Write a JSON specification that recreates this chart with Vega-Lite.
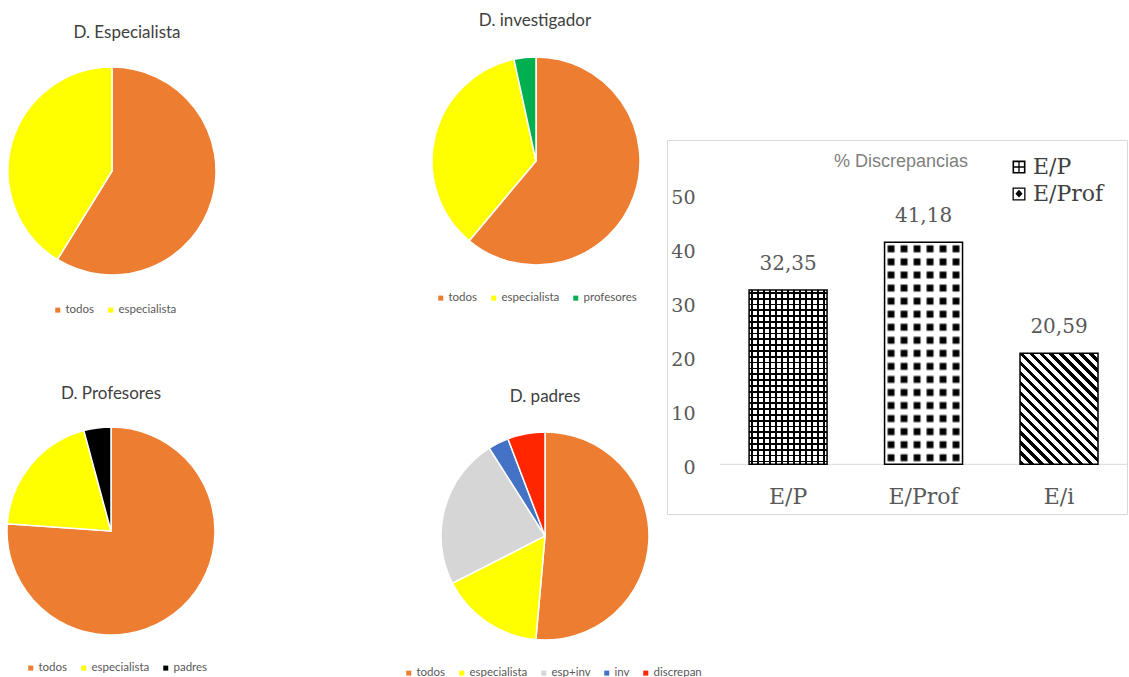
{
  "$schema": "https://vega.github.io/schema/vega-lite/v6.json",
  "background": "white",
  "padding": {"left": 4, "top": 12, "right": 0, "bottom": 0},
  "bounds": "flush",
  "align": "each",
  "columns": 5,
  "spacing": {"row": 0, "column": 0},
  "resolve": {
    "scale": {"color": "independent", "theta": "independent", "shape": "independent"},
    "legend": {"color": "independent", "shape": "independent"}
  },
  "config": {
    "view": {"stroke": null},
    "font": "Lato",
    "title": {"font": "Lato", "fontSize": 17, "fontWeight": "normal", "color": "#404040", "anchor": "middle"},
    "locale": {"number": {"decimal": ",", "thousands": ".", "grouping": [3], "currency": ["", " €"]}}
  },
  "concat": [
    {
      "width": 24,
      "height": 62,
      "title": {"text": "D. Especialista", "offset": 22.5, "dx": 15},
      "data": {"values": [
        {"grupo": "todos", "pct": 58.8, "orden": 1},
        {"grupo": "especialista", "pct": 41.2, "orden": 2}
      ]},
      "mark": {"type": "arc", "outerRadius": 104, "stroke": "#ffffff", "strokeWidth": 1.5},
      "encoding": {
        "theta": {"field": "pct", "type": "quantitative"},
        "order": {"field": "orden", "type": "quantitative"},
        "color": {
          "field": "grupo", "type": "nominal",
          "scale": {"domain": ["todos", "especialista"], "range": ["#ED7D31", "#FFFF00"]},
          "legend": {"orient": "none", "legendX": -48, "legendY": 164, "direction": "horizontal", "title": null, "symbolType": "square", "symbolSize": 25, "symbolStrokeWidth": 0, "labelFont": "Lato", "labelFontSize": 11.5, "labelColor": "#595959", "columnPadding": 10, "labelOffset": 2}
        }
      }
    },
    {
      "width": 400,
      "height": 1,
      "data": {"values": []},
      "mark": "text",
      "encoding": {}
    },
    {
      "width": 24,
      "height": 42,
      "title": {"text": "D. investigador", "offset": 23.75, "dx": -1},
      "data": {"values": [
        {"grupo": "todos", "pct": 61.1, "orden": 1},
        {"grupo": "especialista", "pct": 35.5, "orden": 2},
        {"grupo": "profesores", "pct": 3.4, "orden": 3}
      ]},
      "mark": {"type": "arc", "outerRadius": 104, "stroke": "#ffffff", "strokeWidth": 1.5},
      "encoding": {
        "theta": {"field": "pct", "type": "quantitative"},
        "order": {"field": "orden", "type": "quantitative"},
        "color": {
          "field": "grupo", "type": "nominal",
          "scale": {"domain": ["todos", "especialista", "profesores"], "range": ["#ED7D31", "#FFFF00", "#00B050"]},
          "legend": {"orient": "none", "legendX": -89, "legendY": 152, "direction": "horizontal", "title": null, "symbolType": "square", "symbolSize": 25, "symbolStrokeWidth": 0, "labelFont": "Lato", "labelFontSize": 11.5, "labelColor": "#595959", "columnPadding": 10, "labelOffset": 2}
        }
      }
    },
    {
      "width": 101,
      "height": 1,
      "data": {"values": []},
      "mark": "text",
      "encoding": {}
    },
    {
      "width": 460,
      "height": 374,
      "view": {"stroke": "#d9d9d9", "strokeWidth": 1, "fill": "#ffffff"},
      "title": {"text": "% Discrepancias", "font": "Liberation Sans", "fontSize": 18, "fontWeight": "normal", "color": "#7f7f7f", "offset": -31, "dx": 4},
      "data": {"values": [
        {"cat": "E/P", "val": 32.35},
        {"cat": "E/Prof", "val": 41.18},
        {"cat": "E/i", "val": 20.59}
      ]},
      "encoding": {
        "x": {
          "field": "cat", "type": "nominal", "sort": ["E/P", "E/Prof", "E/i"],
          "scale": {"paddingInner": 0.4244, "paddingOuter": 0.41, "align": 0.739},
          "axis": {"orient": "bottom", "title": null, "domain": false, "ticks": false, "tickSize": 0, "grid": false, "labelAngle": 0, "labelPadding": 22, "offset": -50, "labelFont": "DejaVu Serif", "labelFontSize": 22, "labelColor": "#595959"}
        },
        "y": {
          "field": "val", "type": "quantitative",
          "scale": {"domain": [-9.22, 60.17], "nice": false, "zero": false},
          "axis": {"orient": "left", "title": null, "values": [0, 10, 20, 30, 40, 50], "domain": false, "ticks": false, "tickSize": 0, "grid": false, "labelPadding": 0, "offset": -28, "labelOffset": 3, "labelFont": "DejaVu Serif", "labelFontSize": 19, "labelColor": "#595959"}
        }
      },
      "layer": [
        {
          "transform": [{"filter": "datum.cat === 'E/P'"}],
          "mark": {"type": "rule", "color": "#d9d9d9", "strokeWidth": 1},
          "encoding": {
            "x": {"datum": "E/P", "bandPosition": -0.372},
            "x2": {"value": "width"},
            "y": {"datum": 0}
          }
        },
        {
          "transform": [{"filter": "datum.cat === 'E/P'"}],
          "mark": {"type": "bar", "fill": {"gradient": "linear", "x1": 0, "y1": 0, "x2": 1, "y2": 0, "stops": [
            {"offset": 0, "color": "#fff"},
            {"offset": 0.0269, "color": "#fff"}, {"offset": 0.0269, "color": "#000"}, {"offset": 0.05, "color": "#000"}, {"offset": 0.05, "color": "#fff"},
            {"offset": 0.1038, "color": "#fff"}, {"offset": 0.1038, "color": "#000"}, {"offset": 0.1269, "color": "#000"}, {"offset": 0.1269, "color": "#fff"},
            {"offset": 0.1808, "color": "#fff"}, {"offset": 0.1808, "color": "#000"}, {"offset": 0.2038, "color": "#000"}, {"offset": 0.2038, "color": "#fff"},
            {"offset": 0.2577, "color": "#fff"}, {"offset": 0.2577, "color": "#000"}, {"offset": 0.2808, "color": "#000"}, {"offset": 0.2808, "color": "#fff"},
            {"offset": 0.3346, "color": "#fff"}, {"offset": 0.3346, "color": "#000"}, {"offset": 0.3577, "color": "#000"}, {"offset": 0.3577, "color": "#fff"},
            {"offset": 0.4115, "color": "#fff"}, {"offset": 0.4115, "color": "#000"}, {"offset": 0.4346, "color": "#000"}, {"offset": 0.4346, "color": "#fff"},
            {"offset": 0.4885, "color": "#fff"}, {"offset": 0.4885, "color": "#000"}, {"offset": 0.5115, "color": "#000"}, {"offset": 0.5115, "color": "#fff"},
            {"offset": 0.5654, "color": "#fff"}, {"offset": 0.5654, "color": "#000"}, {"offset": 0.5885, "color": "#000"}, {"offset": 0.5885, "color": "#fff"},
            {"offset": 0.6423, "color": "#fff"}, {"offset": 0.6423, "color": "#000"}, {"offset": 0.6654, "color": "#000"}, {"offset": 0.6654, "color": "#fff"},
            {"offset": 0.7192, "color": "#fff"}, {"offset": 0.7192, "color": "#000"}, {"offset": 0.7423, "color": "#000"}, {"offset": 0.7423, "color": "#fff"},
            {"offset": 0.7962, "color": "#fff"}, {"offset": 0.7962, "color": "#000"}, {"offset": 0.8192, "color": "#000"}, {"offset": 0.8192, "color": "#fff"},
            {"offset": 0.8731, "color": "#fff"}, {"offset": 0.8731, "color": "#000"}, {"offset": 0.8962, "color": "#000"}, {"offset": 0.8962, "color": "#fff"},
            {"offset": 0.95, "color": "#fff"}, {"offset": 0.95, "color": "#000"}, {"offset": 0.9731, "color": "#000"}, {"offset": 0.9731, "color": "#fff"},
            {"offset": 1, "color": "#fff"}
          ]}},
          "encoding": {"y2": {"datum": 0}}
        },
        {
          "transform": [{"filter": "datum.cat === 'E/P'"}],
          "mark": {"type": "bar", "stroke": "#000", "strokeWidth": 1.5, "fill": {"gradient": "linear", "x1": 0, "y1": 0, "x2": 0, "y2": 1, "stops": [
            {"offset": 0, "color": "rgba(0,0,0,0)"},
            {"offset": 0.0117, "color": "rgba(0,0,0,0)"}, {"offset": 0.0117, "color": "#000"}, {"offset": 0.0217, "color": "#000"}, {"offset": 0.0217, "color": "rgba(0,0,0,0)"},
            {"offset": 0.045, "color": "rgba(0,0,0,0)"}, {"offset": 0.045, "color": "#000"}, {"offset": 0.055, "color": "#000"}, {"offset": 0.055, "color": "rgba(0,0,0,0)"},
            {"offset": 0.0783, "color": "rgba(0,0,0,0)"}, {"offset": 0.0783, "color": "#000"}, {"offset": 0.0883, "color": "#000"}, {"offset": 0.0883, "color": "rgba(0,0,0,0)"},
            {"offset": 0.1117, "color": "rgba(0,0,0,0)"}, {"offset": 0.1117, "color": "#000"}, {"offset": 0.1217, "color": "#000"}, {"offset": 0.1217, "color": "rgba(0,0,0,0)"},
            {"offset": 0.145, "color": "rgba(0,0,0,0)"}, {"offset": 0.145, "color": "#000"}, {"offset": 0.155, "color": "#000"}, {"offset": 0.155, "color": "rgba(0,0,0,0)"},
            {"offset": 0.1783, "color": "rgba(0,0,0,0)"}, {"offset": 0.1783, "color": "#000"}, {"offset": 0.1883, "color": "#000"}, {"offset": 0.1883, "color": "rgba(0,0,0,0)"},
            {"offset": 0.2117, "color": "rgba(0,0,0,0)"}, {"offset": 0.2117, "color": "#000"}, {"offset": 0.2217, "color": "#000"}, {"offset": 0.2217, "color": "rgba(0,0,0,0)"},
            {"offset": 0.245, "color": "rgba(0,0,0,0)"}, {"offset": 0.245, "color": "#000"}, {"offset": 0.255, "color": "#000"}, {"offset": 0.255, "color": "rgba(0,0,0,0)"},
            {"offset": 0.2783, "color": "rgba(0,0,0,0)"}, {"offset": 0.2783, "color": "#000"}, {"offset": 0.2883, "color": "#000"}, {"offset": 0.2883, "color": "rgba(0,0,0,0)"},
            {"offset": 0.3117, "color": "rgba(0,0,0,0)"}, {"offset": 0.3117, "color": "#000"}, {"offset": 0.3217, "color": "#000"}, {"offset": 0.3217, "color": "rgba(0,0,0,0)"},
            {"offset": 0.345, "color": "rgba(0,0,0,0)"}, {"offset": 0.345, "color": "#000"}, {"offset": 0.355, "color": "#000"}, {"offset": 0.355, "color": "rgba(0,0,0,0)"},
            {"offset": 0.3783, "color": "rgba(0,0,0,0)"}, {"offset": 0.3783, "color": "#000"}, {"offset": 0.3883, "color": "#000"}, {"offset": 0.3883, "color": "rgba(0,0,0,0)"},
            {"offset": 0.4117, "color": "rgba(0,0,0,0)"}, {"offset": 0.4117, "color": "#000"}, {"offset": 0.4217, "color": "#000"}, {"offset": 0.4217, "color": "rgba(0,0,0,0)"},
            {"offset": 0.445, "color": "rgba(0,0,0,0)"}, {"offset": 0.445, "color": "#000"}, {"offset": 0.455, "color": "#000"}, {"offset": 0.455, "color": "rgba(0,0,0,0)"},
            {"offset": 0.4783, "color": "rgba(0,0,0,0)"}, {"offset": 0.4783, "color": "#000"}, {"offset": 0.4883, "color": "#000"}, {"offset": 0.4883, "color": "rgba(0,0,0,0)"},
            {"offset": 0.5117, "color": "rgba(0,0,0,0)"}, {"offset": 0.5117, "color": "#000"}, {"offset": 0.5217, "color": "#000"}, {"offset": 0.5217, "color": "rgba(0,0,0,0)"},
            {"offset": 0.545, "color": "rgba(0,0,0,0)"}, {"offset": 0.545, "color": "#000"}, {"offset": 0.555, "color": "#000"}, {"offset": 0.555, "color": "rgba(0,0,0,0)"},
            {"offset": 0.5783, "color": "rgba(0,0,0,0)"}, {"offset": 0.5783, "color": "#000"}, {"offset": 0.5883, "color": "#000"}, {"offset": 0.5883, "color": "rgba(0,0,0,0)"},
            {"offset": 0.6117, "color": "rgba(0,0,0,0)"}, {"offset": 0.6117, "color": "#000"}, {"offset": 0.6217, "color": "#000"}, {"offset": 0.6217, "color": "rgba(0,0,0,0)"},
            {"offset": 0.645, "color": "rgba(0,0,0,0)"}, {"offset": 0.645, "color": "#000"}, {"offset": 0.655, "color": "#000"}, {"offset": 0.655, "color": "rgba(0,0,0,0)"},
            {"offset": 0.6783, "color": "rgba(0,0,0,0)"}, {"offset": 0.6783, "color": "#000"}, {"offset": 0.6883, "color": "#000"}, {"offset": 0.6883, "color": "rgba(0,0,0,0)"},
            {"offset": 0.7117, "color": "rgba(0,0,0,0)"}, {"offset": 0.7117, "color": "#000"}, {"offset": 0.7217, "color": "#000"}, {"offset": 0.7217, "color": "rgba(0,0,0,0)"},
            {"offset": 0.745, "color": "rgba(0,0,0,0)"}, {"offset": 0.745, "color": "#000"}, {"offset": 0.755, "color": "#000"}, {"offset": 0.755, "color": "rgba(0,0,0,0)"},
            {"offset": 0.7783, "color": "rgba(0,0,0,0)"}, {"offset": 0.7783, "color": "#000"}, {"offset": 0.7883, "color": "#000"}, {"offset": 0.7883, "color": "rgba(0,0,0,0)"},
            {"offset": 0.8117, "color": "rgba(0,0,0,0)"}, {"offset": 0.8117, "color": "#000"}, {"offset": 0.8217, "color": "#000"}, {"offset": 0.8217, "color": "rgba(0,0,0,0)"},
            {"offset": 0.845, "color": "rgba(0,0,0,0)"}, {"offset": 0.845, "color": "#000"}, {"offset": 0.855, "color": "#000"}, {"offset": 0.855, "color": "rgba(0,0,0,0)"},
            {"offset": 0.8783, "color": "rgba(0,0,0,0)"}, {"offset": 0.8783, "color": "#000"}, {"offset": 0.8883, "color": "#000"}, {"offset": 0.8883, "color": "rgba(0,0,0,0)"},
            {"offset": 0.9117, "color": "rgba(0,0,0,0)"}, {"offset": 0.9117, "color": "#000"}, {"offset": 0.9217, "color": "#000"}, {"offset": 0.9217, "color": "rgba(0,0,0,0)"},
            {"offset": 0.945, "color": "rgba(0,0,0,0)"}, {"offset": 0.945, "color": "#000"}, {"offset": 0.955, "color": "#000"}, {"offset": 0.955, "color": "rgba(0,0,0,0)"},
            {"offset": 0.9783, "color": "rgba(0,0,0,0)"}, {"offset": 0.9783, "color": "#000"}, {"offset": 0.9883, "color": "#000"}, {"offset": 0.9883, "color": "rgba(0,0,0,0)"},
            {"offset": 1, "color": "rgba(0,0,0,0)"}
          ]}},
          "encoding": {"y2": {"datum": 0}}
        },
        {
          "transform": [{"filter": "datum.cat === 'E/Prof'"}],
          "mark": {"type": "bar", "fill": {"gradient": "linear", "x1": 0, "y1": 0, "x2": 1, "y2": 0, "stops": [
            {"offset": 0, "color": "#fff"},
            {"offset": 0.025, "color": "#fff"}, {"offset": 0.0533, "color": "#000"}, {"offset": 0.1133, "color": "#000"}, {"offset": 0.1417, "color": "#fff"},
            {"offset": 0.1917, "color": "#fff"}, {"offset": 0.22, "color": "#000"}, {"offset": 0.28, "color": "#000"}, {"offset": 0.3083, "color": "#fff"},
            {"offset": 0.3583, "color": "#fff"}, {"offset": 0.3867, "color": "#000"}, {"offset": 0.4467, "color": "#000"}, {"offset": 0.475, "color": "#fff"},
            {"offset": 0.525, "color": "#fff"}, {"offset": 0.5533, "color": "#000"}, {"offset": 0.6133, "color": "#000"}, {"offset": 0.6417, "color": "#fff"},
            {"offset": 0.6917, "color": "#fff"}, {"offset": 0.72, "color": "#000"}, {"offset": 0.78, "color": "#000"}, {"offset": 0.8083, "color": "#fff"},
            {"offset": 0.8583, "color": "#fff"}, {"offset": 0.8867, "color": "#000"}, {"offset": 0.9467, "color": "#000"}, {"offset": 0.975, "color": "#fff"},
            {"offset": 1, "color": "#fff"}
          ]}},
          "encoding": {"y2": {"datum": 0}}
        },
        {
          "transform": [{"filter": "datum.cat === 'E/Prof'"}],
          "mark": {"type": "bar", "stroke": "#000", "strokeWidth": 1.5, "fill": {"gradient": "linear", "x1": 0, "y1": 0, "x2": 0, "y2": 1, "stops": [
            {"offset": 0, "color": "#fff"},
            {"offset": 0.0088, "color": "#fff"}, {"offset": 0.0188, "color": "rgba(255,255,255,0)"}, {"offset": 0.04, "color": "rgba(255,255,255,0)"}, {"offset": 0.05, "color": "#fff"},
            {"offset": 0.0676, "color": "#fff"}, {"offset": 0.0776, "color": "rgba(255,255,255,0)"}, {"offset": 0.0988, "color": "rgba(255,255,255,0)"}, {"offset": 0.1088, "color": "#fff"},
            {"offset": 0.1265, "color": "#fff"}, {"offset": 0.1365, "color": "rgba(255,255,255,0)"}, {"offset": 0.1576, "color": "rgba(255,255,255,0)"}, {"offset": 0.1676, "color": "#fff"},
            {"offset": 0.1853, "color": "#fff"}, {"offset": 0.1953, "color": "rgba(255,255,255,0)"}, {"offset": 0.2165, "color": "rgba(255,255,255,0)"}, {"offset": 0.2265, "color": "#fff"},
            {"offset": 0.2441, "color": "#fff"}, {"offset": 0.2541, "color": "rgba(255,255,255,0)"}, {"offset": 0.2753, "color": "rgba(255,255,255,0)"}, {"offset": 0.2853, "color": "#fff"},
            {"offset": 0.3029, "color": "#fff"}, {"offset": 0.3129, "color": "rgba(255,255,255,0)"}, {"offset": 0.3341, "color": "rgba(255,255,255,0)"}, {"offset": 0.3441, "color": "#fff"},
            {"offset": 0.3618, "color": "#fff"}, {"offset": 0.3718, "color": "rgba(255,255,255,0)"}, {"offset": 0.3929, "color": "rgba(255,255,255,0)"}, {"offset": 0.4029, "color": "#fff"},
            {"offset": 0.4206, "color": "#fff"}, {"offset": 0.4306, "color": "rgba(255,255,255,0)"}, {"offset": 0.4518, "color": "rgba(255,255,255,0)"}, {"offset": 0.4618, "color": "#fff"},
            {"offset": 0.4794, "color": "#fff"}, {"offset": 0.4894, "color": "rgba(255,255,255,0)"}, {"offset": 0.5106, "color": "rgba(255,255,255,0)"}, {"offset": 0.5206, "color": "#fff"},
            {"offset": 0.5382, "color": "#fff"}, {"offset": 0.5482, "color": "rgba(255,255,255,0)"}, {"offset": 0.5694, "color": "rgba(255,255,255,0)"}, {"offset": 0.5794, "color": "#fff"},
            {"offset": 0.5971, "color": "#fff"}, {"offset": 0.6071, "color": "rgba(255,255,255,0)"}, {"offset": 0.6282, "color": "rgba(255,255,255,0)"}, {"offset": 0.6382, "color": "#fff"},
            {"offset": 0.6559, "color": "#fff"}, {"offset": 0.6659, "color": "rgba(255,255,255,0)"}, {"offset": 0.6871, "color": "rgba(255,255,255,0)"}, {"offset": 0.6971, "color": "#fff"},
            {"offset": 0.7147, "color": "#fff"}, {"offset": 0.7247, "color": "rgba(255,255,255,0)"}, {"offset": 0.7459, "color": "rgba(255,255,255,0)"}, {"offset": 0.7559, "color": "#fff"},
            {"offset": 0.7735, "color": "#fff"}, {"offset": 0.7835, "color": "rgba(255,255,255,0)"}, {"offset": 0.8047, "color": "rgba(255,255,255,0)"}, {"offset": 0.8147, "color": "#fff"},
            {"offset": 0.8324, "color": "#fff"}, {"offset": 0.8424, "color": "rgba(255,255,255,0)"}, {"offset": 0.8635, "color": "rgba(255,255,255,0)"}, {"offset": 0.8735, "color": "#fff"},
            {"offset": 0.8912, "color": "#fff"}, {"offset": 0.9012, "color": "rgba(255,255,255,0)"}, {"offset": 0.9224, "color": "rgba(255,255,255,0)"}, {"offset": 0.9324, "color": "#fff"},
            {"offset": 0.95, "color": "#fff"}, {"offset": 0.96, "color": "rgba(255,255,255,0)"}, {"offset": 0.9812, "color": "rgba(255,255,255,0)"}, {"offset": 0.9912, "color": "#fff"},
            {"offset": 1, "color": "#fff"}
          ]}},
          "encoding": {"y2": {"datum": 0}}
        },
        {
          "transform": [{"filter": "datum.cat === 'E/i'"}],
          "mark": {"type": "bar", "stroke": "#000", "strokeWidth": 1.5, "fill": {"gradient": "linear", "x1": 0, "y1": 1, "x2": 0.801, "y2": -0.14, "stops": [
            {"offset": 0, "color": "#000"}, {"offset": 0.0237, "color": "#000"}, {"offset": 0.0237, "color": "#fff"},
            {"offset": 0.0526, "color": "#fff"}, {"offset": 0.0526, "color": "#000"}, {"offset": 0.0763, "color": "#000"}, {"offset": 0.0763, "color": "#fff"},
            {"offset": 0.1053, "color": "#fff"}, {"offset": 0.1053, "color": "#000"}, {"offset": 0.129, "color": "#000"}, {"offset": 0.129, "color": "#fff"},
            {"offset": 0.1579, "color": "#fff"}, {"offset": 0.1579, "color": "#000"}, {"offset": 0.1816, "color": "#000"}, {"offset": 0.1816, "color": "#fff"},
            {"offset": 0.2105, "color": "#fff"}, {"offset": 0.2105, "color": "#000"}, {"offset": 0.2342, "color": "#000"}, {"offset": 0.2342, "color": "#fff"},
            {"offset": 0.2632, "color": "#fff"}, {"offset": 0.2632, "color": "#000"}, {"offset": 0.2869, "color": "#000"}, {"offset": 0.2869, "color": "#fff"},
            {"offset": 0.3158, "color": "#fff"}, {"offset": 0.3158, "color": "#000"}, {"offset": 0.3395, "color": "#000"}, {"offset": 0.3395, "color": "#fff"},
            {"offset": 0.3684, "color": "#fff"}, {"offset": 0.3684, "color": "#000"}, {"offset": 0.3921, "color": "#000"}, {"offset": 0.3921, "color": "#fff"},
            {"offset": 0.4211, "color": "#fff"}, {"offset": 0.4211, "color": "#000"}, {"offset": 0.4448, "color": "#000"}, {"offset": 0.4448, "color": "#fff"},
            {"offset": 0.4737, "color": "#fff"}, {"offset": 0.4737, "color": "#000"}, {"offset": 0.4974, "color": "#000"}, {"offset": 0.4974, "color": "#fff"},
            {"offset": 0.5263, "color": "#fff"}, {"offset": 0.5263, "color": "#000"}, {"offset": 0.55, "color": "#000"}, {"offset": 0.55, "color": "#fff"},
            {"offset": 0.5789, "color": "#fff"}, {"offset": 0.5789, "color": "#000"}, {"offset": 0.6026, "color": "#000"}, {"offset": 0.6026, "color": "#fff"},
            {"offset": 0.6316, "color": "#fff"}, {"offset": 0.6316, "color": "#000"}, {"offset": 0.6553, "color": "#000"}, {"offset": 0.6553, "color": "#fff"},
            {"offset": 0.6842, "color": "#fff"}, {"offset": 0.6842, "color": "#000"}, {"offset": 0.7079, "color": "#000"}, {"offset": 0.7079, "color": "#fff"},
            {"offset": 0.7368, "color": "#fff"}, {"offset": 0.7368, "color": "#000"}, {"offset": 0.7605, "color": "#000"}, {"offset": 0.7605, "color": "#fff"},
            {"offset": 0.7895, "color": "#fff"}, {"offset": 0.7895, "color": "#000"}, {"offset": 0.8132, "color": "#000"}, {"offset": 0.8132, "color": "#fff"},
            {"offset": 0.8421, "color": "#fff"}, {"offset": 0.8421, "color": "#000"}, {"offset": 0.8658, "color": "#000"}, {"offset": 0.8658, "color": "#fff"},
            {"offset": 0.8947, "color": "#fff"}, {"offset": 0.8947, "color": "#000"}, {"offset": 0.9184, "color": "#000"}, {"offset": 0.9184, "color": "#fff"},
            {"offset": 0.9474, "color": "#fff"}, {"offset": 0.9474, "color": "#000"}, {"offset": 0.9711, "color": "#000"}, {"offset": 0.9711, "color": "#fff"},
            {"offset": 1, "color": "#fff"}
          ]}},
          "encoding": {"y2": {"datum": 0}}
        },
        {
          "mark": {"type": "text", "dy": -26, "baseline": "middle", "font": "DejaVu Serif", "fontSize": 20, "color": "#595959"},
          "encoding": {
            "text": {"field": "val", "type": "quantitative", "format": ".2f"}
          }
        },
        {
          "transform": [{"filter": "datum.cat !== 'E/i'"}],
          "mark": {"type": "point", "filled": true, "opacity": 0, "color": "#000"},
          "encoding": {
            "shape": {
              "field": "cat", "type": "nominal",
              "scale": {
                "domain": ["E/P", "E/Prof"],
                "range": [
                  "M-1,-1H1V1H-1Z M-0.75,-0.75V-0.1H-0.1V-0.75Z M0.1,-0.75V-0.1H0.75V-0.75Z M-0.75,0.1V0.75H-0.1V0.1Z M0.1,0.1V0.75H0.75V0.1Z",
                  "M-1,-1H1V1H-1Z M-0.8,-0.8V0.8H0.8V-0.8Z M0,-0.65L0.55,-0.05L0,0.55L-0.55,-0.05Z"
                ]
              },
              "legend": {"orient": "none", "legendX": 341, "legendY": 16, "title": null, "symbolSize": 169, "symbolFillColor": "#000", "symbolStrokeColor": "#000", "symbolStrokeWidth": 0, "symbolOpacity": 1, "labelFont": "DejaVu Serif", "labelFontSize": 22, "labelColor": "#404040", "labelOffset": 3, "rowPadding": 5}
            }
          }
        }
      ]
    },
    {
      "width": 22,
      "height": 34,
      "title": {"text": "D. Profesores", "offset": 21.5},
      "data": {"values": [
        {"grupo": "todos", "pct": 76.1, "orden": 1},
        {"grupo": "especialista", "pct": 19.7, "orden": 2},
        {"grupo": "padres", "pct": 4.2, "orden": 3}
      ]},
      "mark": {"type": "arc", "outerRadius": 104, "stroke": "#ffffff", "strokeWidth": 1.5},
      "encoding": {
        "theta": {"field": "pct", "type": "quantitative"},
        "order": {"field": "orden", "type": "quantitative"},
        "color": {
          "field": "grupo", "type": "nominal",
          "scale": {"domain": ["todos", "especialista", "padres"], "range": ["#ED7D31", "#FFFF00", "#000000"]},
          "legend": {"orient": "none", "legendX": -75, "legendY": 148, "direction": "horizontal", "title": null, "symbolType": "square", "symbolSize": 25, "symbolStrokeWidth": 0, "labelFont": "Lato", "labelFontSize": 11.5, "labelColor": "#595959", "columnPadding": 10, "labelOffset": 2}
        }
      }
    },
    {
      "width": 400,
      "height": 1,
      "data": {"values": []},
      "mark": "text",
      "encoding": {}
    },
    {
      "width": 42,
      "height": 44,
      "title": {"text": "D. padres", "offset": 23},
      "data": {"values": [
        {"grupo": "todos", "pct": 51.4, "orden": 1},
        {"grupo": "especialista", "pct": 16.1, "orden": 2},
        {"grupo": "esp+inv", "pct": 23.5, "orden": 3},
        {"grupo": "inv", "pct": 3.2, "orden": 4},
        {"grupo": "discrepan", "pct": 5.8, "orden": 5}
      ]},
      "mark": {"type": "arc", "outerRadius": 104, "stroke": "#ffffff", "strokeWidth": 1.5},
      "encoding": {
        "theta": {"field": "pct", "type": "quantitative"},
        "order": {"field": "orden", "type": "quantitative"},
        "color": {
          "field": "grupo", "type": "nominal",
          "scale": {"domain": ["todos", "especialista", "esp+inv", "inv", "discrepan"], "range": ["#ED7D31", "#FFFF00", "#D6D6D6", "#4472C4", "#FF2600"]},
          "legend": {"orient": "none", "legendX": -121, "legendY": 153, "direction": "horizontal", "title": null, "symbolType": "square", "symbolSize": 25, "symbolStrokeWidth": 0, "labelFont": "Lato", "labelFontSize": 11.5, "labelColor": "#595959", "columnPadding": 10, "labelOffset": 2}
        }
      }
    }
  ]
}
